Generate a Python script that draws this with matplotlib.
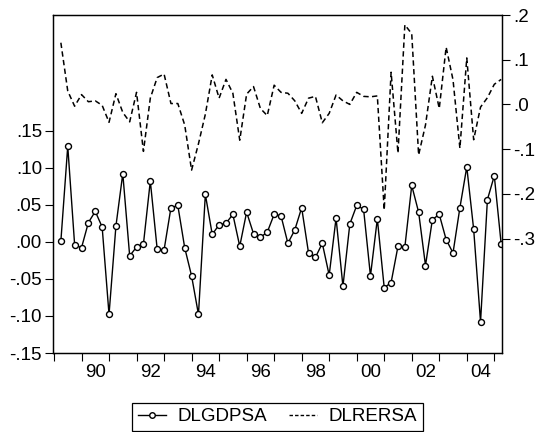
import matplotlib
matplotlib.use("Agg")
import matplotlib.pyplot as plt
from matplotlib.lines import Line2D
import numpy as np
import pandas as pd

# quarterly data, 1989Q2 - 2005Q2
quarters = pd.period_range("1989Q2", periods=65, freq="Q")

dlgdpsa = [0.001, 0.129, -0.004, -0.008, 0.026, 0.041, 0.020, -0.098, 0.021, 0.092,
           -0.019, -0.007, -0.003, 0.082, -0.010, -0.011, 0.046, 0.049, -0.008, -0.046,
           -0.098, 0.064, 0.010, 0.023, 0.025, 0.037, -0.006, 0.040, 0.011, 0.006,
           0.013, 0.037, 0.035, -0.002, 0.016, 0.046, -0.015, -0.021, -0.002, -0.045,
           0.032, -0.060, 0.024, 0.049, 0.044, -0.046, 0.031, -0.062, -0.055, -0.006,
           -0.007, 0.076, 0.040, -0.032, 0.030, 0.037, 0.003, -0.015, 0.046, 0.101,
           0.017, -0.108, 0.057, 0.089, -0.003]

dlrersa = [0.138, 0.030, -0.004, 0.022, 0.006, 0.008, -0.002, -0.040, 0.024, -0.018,
           -0.039, 0.027, -0.105, 0.014, 0.060, 0.068, 0.002, 0.002, -0.046, -0.147,
           -0.088, -0.022, 0.066, 0.014, 0.056, 0.025, -0.080, 0.023, 0.040, -0.009,
           -0.025, 0.043, 0.027, 0.025, 0.008, -0.020, 0.014, 0.018, -0.041, -0.020,
           0.021, 0.008, 0.000, 0.027, 0.018, 0.017, 0.019, -0.236, 0.072, -0.109,
           0.178, 0.158, -0.113, -0.046, 0.063, -0.009, 0.128, 0.055, -0.098, 0.104,
           -0.079, -0.006, 0.015, 0.045, 0.056]

left_ticks = [-0.15, -0.10, -0.05, 0.0, 0.05, 0.10, 0.15]
left_labels = ["-.15", "-.10", "-.05", ".00", ".05", ".10", ".15"]
right_ticks = [-0.3, -0.2, -0.1, 0.0, 0.1, 0.2]
right_labels = ["-.3", "-.2", "-.1", ".0", ".1", ".2"]
year_labels = ["90", "92", "94", "96", "98", "00", "02", "04"]

plt.rcParams["font.family"] = ["Liberation Sans", "DejaVu Sans"]
fs = 13.5

x = quarters.year + (quarters.quarter - 1) / 4.0

fig = plt.figure(figsize=(5.38, 4.32), dpi=100, facecolor="w")
ax = fig.add_axes([53 / 538, 1 - 353 / 432, 449 / 538, 338 / 432])
ax2 = ax.twinx()

ax.plot(x, dlgdpsa, "-", color="k", lw=1.0, marker="o", ms=4.3,
        mfc="w", mec="k", mew=1.0)
ax2.plot(x, dlrersa, color="k", lw=1.1, dashes=(3.5, 2.2))

ax.set_xlim(1988.964, 2005.28)
ax.set_ylim(-0.15, 0.306)
ax2.set_ylim(-0.556, 0.2)

ax.set_yticks(left_ticks)
ax.set_yticklabels(left_labels, fontsize=fs)
ax2.set_yticks(right_ticks)
ax2.set_yticklabels(right_labels, fontsize=fs)

# year ticks at the start of each year, labels centred in even years
ax.set_xticks(np.arange(1989, 2006))
ax.set_xticklabels([])
label_pos = [(1900 if int(s) > 50 else 2000) + int(s) + 0.5 for s in year_labels]
ax.set_xticks(label_pos, minor=True)
ax.set_xticklabels(year_labels, minor=True, fontsize=fs)
ax.tick_params(axis="x", which="major", direction="out", length=6, width=0.8)
ax.tick_params(axis="x", which="minor", length=0, pad=8)
ax.tick_params(axis="y", direction="out", length=6, width=0.8, pad=2)
ax2.tick_params(axis="y", direction="out", length=6, width=0.8, pad=2)

for a in (ax, ax2):
    for sp in a.spines.values():
        sp.set_linewidth(0.9)

handles = [Line2D([], [], color="k", lw=1.0, marker="o", ms=4.0, mfc="w", mec="k"),
           Line2D([], [], color="k", lw=1.0, dashes=(2.5, 1.5))]
leg = fig.legend(handles, ["DLGDPSA", "DLRERSA"], loc="lower center",
                 bbox_to_anchor=(277.5 / 538, 1 / 432), ncol=2, fontsize=fs,
                 frameon=True, fancybox=False, edgecolor="k", framealpha=1,
                 handlelength=1.5, handletextpad=0.6, columnspacing=1.2,
                 borderpad=0.3, borderaxespad=0)
leg.get_frame().set_linewidth(0.9)

plt.savefig("out.png", dpi=100, facecolor="w")
